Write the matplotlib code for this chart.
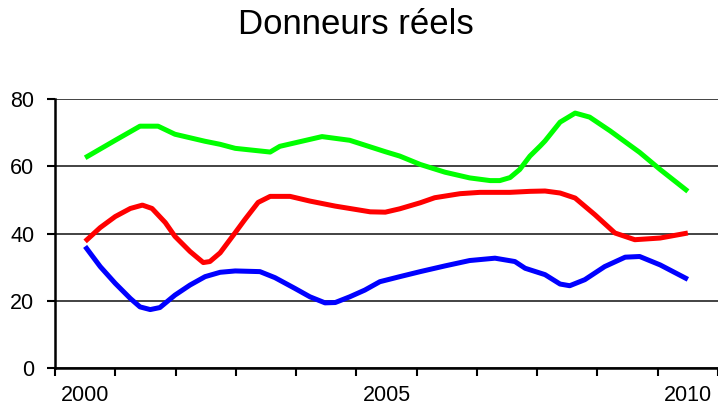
import numpy as np
import matplotlib.pyplot as plt

plt.rcParams['font.family'] = ['Liberation Sans', 'DejaVu Sans']

# years shown on the category axis
years = [2000, 2001, 2002, 2003, 2004, 2005, 2006, 2007, 2008, 2009, 2010]
year_labels = ['2000', '', '', '', '', '2005', '', '', '', '', '2010']

# points (x in years, y in %)
green_x = [2000.0, 2000.5, 2000.91, 2001.21, 2001.49, 2001.99, 2002.24, 2002.49, 2003.07, 2003.23,
           2003.93, 2004.39, 2004.98, 2005.22, 2005.56, 2005.97, 2006.38, 2006.72, 2006.88, 2007.05,
           2007.21, 2007.38, 2007.55, 2007.63, 2007.88, 2008.13, 2008.37, 2008.71, 2009.2, 2009.54, 2010.0]
green_y = [62.6, 67.8, 72.0, 72.0, 69.6, 67.5, 66.6, 65.4, 64.3, 66.0,
           68.9, 67.8, 64.4, 63.1, 60.6, 58.3, 56.6, 55.8, 55.8, 56.7,
           59.1, 63.1, 66.1, 67.6, 73.2, 75.9, 74.7, 70.6, 64.2, 59.1, 52.6]

red_x = [2000.0, 2000.25, 2000.5, 2000.75, 2000.95, 2001.11, 2001.33, 2001.49, 2001.74, 2001.96,
         2002.07, 2002.24, 2002.49, 2002.65, 2002.87, 2003.07, 2003.4, 2003.73, 2004.15, 2004.39,
         2004.73, 2004.98, 2005.22, 2005.56, 2005.80, 2006.22, 2006.55, 2007.05, 2007.38, 2007.63,
         2007.88, 2008.13, 2008.46, 2008.79, 2009.12, 2009.54, 2010.0]
red_y = [37.7, 41.8, 45.1, 47.5, 48.5, 47.5, 43.3, 39.2, 34.7, 31.4,
         31.7, 34.3, 40.3, 44.2, 49.3, 51.1, 51.1, 49.7, 48.2, 47.5,
         46.5, 46.4, 47.4, 49.2, 50.7, 51.9, 52.3, 52.3, 52.6, 52.7,
         52.1, 50.6, 45.6, 40.2, 38.2, 38.7, 40.2]

blue_x = [2000.0, 2000.25, 2000.5, 2000.75, 2000.91, 2001.08, 2001.24, 2001.49, 2001.74, 2001.99,
          2002.24, 2002.49, 2002.9, 2003.15, 2003.48, 2003.73, 2003.98, 2004.15, 2004.39, 2004.64,
          2004.89, 2005.22, 2005.56, 2005.97, 2006.38, 2006.8, 2007.13, 2007.3, 2007.63, 2007.88,
          2008.04, 2008.29, 2008.62, 2008.96, 2009.2, 2009.54, 2010.0]
blue_y = [36.2, 30.2, 25.2, 20.7, 18.2, 17.4, 18.0, 21.7, 24.7, 27.2,
          28.5, 28.9, 28.7, 26.9, 23.7, 21.2, 19.4, 19.5, 21.2, 23.2,
          25.7, 27.2, 28.7, 30.4, 32.0, 32.7, 31.7, 29.7, 27.8, 25.0,
          24.5, 26.3, 30.2, 33.0, 33.2, 30.7, 26.4]

fig = plt.figure(figsize=(7.18, 4.09), dpi=100)
ax = fig.add_axes([0.0766, 0.1002, 0.9234, 0.657])

for xs, ys, c in [(green_x, green_y, '#00ff00'), (red_x, red_y, '#ff0000'), (blue_x, blue_y, '#0000ff')]:
    ax.plot(xs, ys, color=c, lw=3.6, solid_joinstyle='round', solid_capstyle='butt', zorder=3)

ax.set_xlim(1999.5, 2010.5)
ax.set_ylim(0, 80)
ax.set_yticks([0, 20, 40, 60, 80])
ax.set_xticks(years)
ax.set_xticklabels(year_labels)
ax.set_xticks(np.arange(1999.5, 2010.6, 1), minor=True)
ax.tick_params(axis='x', which='major', length=0, pad=12, labelsize=15.5)
ax.tick_params(axis='x', which='minor', length=6, width=1.5, direction='out')
ax.tick_params(axis='y', length=6, width=1.5, pad=9, labelsize=15.5)

ax.grid(axis='y', color='#222222', lw=1.2)
ax.set_axisbelow(True)
for s in ['top', 'right']:
    ax.spines[s].set_visible(False)
for s in ['left', 'bottom']:
    ax.spines[s].set_linewidth(1.8)

fig.text(0.495, 0.94, 'Donneurs réels', ha='center', va='center', fontsize=25)

fig.savefig('out.png', dpi=100)
